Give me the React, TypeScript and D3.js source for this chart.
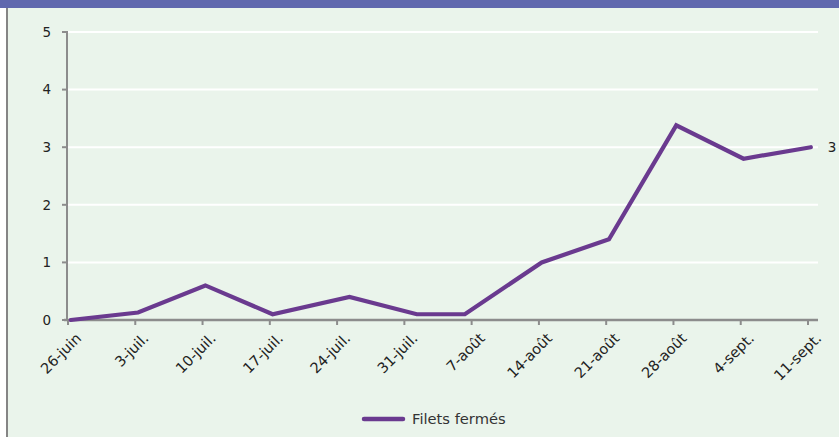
import React from "react";
import * as d3 from "d3";

const tickDates = ["2013-06-26","2013-07-03","2013-07-10","2013-07-17","2013-07-24","2013-07-31","2013-08-07","2013-08-14","2013-08-21","2013-08-28","2013-09-04","2013-09-11"];
const tickLabels = ["26-juin","3-juil.","10-juil.","17-juil.","24-juil.","31-juil.","7-août","14-août","21-août","28-août","4-sept.","11-sept."];
const pointDates = ["2013-06-26T07:00","2013-07-03T07:00","2013-07-10T07:00","2013-07-17T07:00","2013-07-25T07:00","2013-08-01T07:00","2013-08-06T07:00","2013-08-14T07:00","2013-08-21T07:00","2013-08-28T07:00","2013-09-04T07:00","2013-09-11T07:00"];
const values = [0, 0.13, 0.6, 0.1, 0.4, 0.1, 0.1, 1.0, 1.4, 3.38, 2.8, 3.0];
const yTicks = [0, 1, 2, 3, 4, 5];
const seriesName = "Filets fermés";

const W = 839, H = 437;
const FONT = "'DejaVu Sans', sans-serif";
const PURPLE = "#6a3a8f";
const AXIS = "#8c8c8c";

export default function App() {
  const parse = (s: string) => new Date(s);
  const x = d3.scaleTime()
    .domain([parse(tickDates[0] + "T00:00"), parse(tickDates[tickDates.length - 1] + "T00:00")])
    .range([68, 808]);
  const y = d3.scaleLinear().domain([0, 5]).range([320, 32]);
  const pts: [number, number][] = pointDates.map((d, i) => [x(parse(d)), y(values[i])]);
  const line = d3.line();
  const last = pts[pts.length - 1];

  return (
    <svg width={W} height={H} style={{ position: "absolute", left: 0, top: 0, display: "block" }} fontFamily={FONT}>
      <rect x={0} y={0} width={W} height={H} fill="#ffffff" />
      <rect x={7} y={8} width={W - 7} height={H - 8} fill="#eaf4eb" />
      <rect x={0} y={0} width={W} height={8} fill="#6068ae" />
      <line x1={7} x2={7} y1={8} y2={H} stroke="#858585" strokeWidth={2} />

      {yTicks.filter(t => t > 0).map(t => (
        <line key={"g" + t} x1={68} x2={818} y1={y(t)} y2={y(t)} stroke="#ffffff" strokeWidth={2} />
      ))}

      <line x1={67} x2={67} y1={y(5) - 1} y2={y(0)} stroke={AXIS} strokeWidth={2} />
      {yTicks.map(t => (
        <g key={"y" + t}>
          <line x1={62} x2={67} y1={y(t)} y2={y(t)} stroke={AXIS} strokeWidth={2} />
          <text x={51} y={y(t)} dy="0.36em" textAnchor="end" fontSize={13.5} fill="#222">{t}</text>
        </g>
      ))}

      <line x1={64} x2={818} y1={y(0)} y2={y(0)} stroke={AXIS} strokeWidth={2.5} />
      {tickDates.map((d, i) => {
        const tx = x(parse(d + "T00:00"));
        return (
          <g key={"x" + i}>
            <line x1={tx} x2={tx} y1={320} y2={325} stroke={AXIS} strokeWidth={2} />
            <text transform={`translate(${tx + 7},${332}) rotate(-45)`} textAnchor="end" dy="0.7em" fontSize={14.5} fill="#222">{tickLabels[i]}</text>
          </g>
        );
      })}

      <path d={line(pts) || ""} fill="none" stroke={PURPLE} strokeWidth={4.2} strokeLinejoin="miter" strokeLinecap="round" />
      <text x={last[0] + 17} y={last[1]} dy="0.36em" fontSize={13.5} fill="#222">{values[values.length - 1]}</text>

      <line x1={364} x2={403} y1={419} y2={419} stroke={PURPLE} strokeWidth={4.5} strokeLinecap="round" />
      <text x={412} y={419} dy="0.36em" fontSize={14.7} fill="#333">{seriesName}</text>
    </svg>
  );
}
